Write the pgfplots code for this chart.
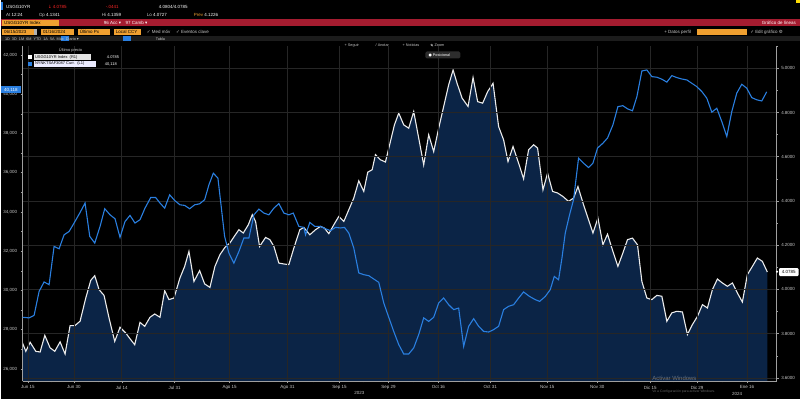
\documentclass[border=0pt]{standalone}
\usepackage{fontspec}
\setmainfont{Liberation Sans}
\newfontfamily\sym{DejaVu Sans}
\usepackage{pgfplots}
\usepackage{pgfplotstable}
\pgfplotsset{compat=1.18}
\definecolor{bbred}{HTML}{A51C30}
\definecolor{bbamber}{HTML}{F0A030}
\definecolor{bbnavy}{HTML}{0B2446}
\definecolor{bbblue}{HTML}{2A7FE0}
\definecolor{bbgrid}{HTML}{262626}
\definecolor{bblabel}{HTML}{C8C8C8}
\definecolor{bbbar}{HTML}{1C1C1C}

\pgfplotstableread{
x y
21.7 3.758
25 3.720
29.3 3.761
35 3.720
39.3 3.717
44 3.792
49.3 3.736
54 3.720
59.3 3.763
64.3 3.708
69.3 3.836
74 3.836
79.3 3.856
85 3.961
90 4.041
94 4.062
98.3 3.999
103.3 3.973
108.3 3.871
114 3.765
119.3 3.829
125 3.803
130 3.773
134 3.750
139.3 3.851
144 3.833
149.3 3.874
154 3.889
159.3 3.874
164 3.994
168.3 3.954
173.3 3.961
179.3 4.052
184 4.104
188.3 4.172
193.3 4.036
199 4.085
204 4.025
209.3 4.009
214.3 4.104
219.3 4.157
224.3 4.190
229.3 4.210
234.3 4.244
238.3 4.270
242.7 4.255
247.7 4.292
251.7 4.338
255 4.307
259 4.194
265 4.235
269.3 4.225
273.3 4.195
278.3 4.119
283.3 4.115
288.3 4.112
293.3 4.187
299.3 4.270
303.3 4.280
309.3 4.247
315 4.270
320 4.285
324 4.277
328.3 4.252
333.3 4.292
338.3 4.330
343.3 4.307
348.3 4.360
353.3 4.413
358.3 4.491
363.3 4.443
367.3 4.530
371.7 4.541
375 4.609
380 4.586
385 4.576
390 4.669
394 4.744
398.3 4.797
403.3 4.744
408.3 4.729
413.3 4.804
418.3 4.684
423.3 4.563
428.3 4.699
433.3 4.623
438.3 4.729
443.3 4.827
448.3 4.925
452.7 4.992
456.7 4.932
461.7 4.865
467.7 4.827
472.7 4.958
477.3 4.849
482.3 4.842
487.3 4.894
492.7 4.932
498.3 4.736
503.3 4.676
507.7 4.578
512.7 4.646
518.3 4.571
523.3 4.500
528.3 4.631
533.3 4.654
537.3 4.639
542.7 4.450
547.3 4.526
552.3 4.443
557.3 4.436
562.7 4.420
568.3 4.398
573.3 4.413
577.7 4.465
583.3 4.383
588.3 4.315
592.7 4.255
597.7 4.323
602.7 4.202
607.3 4.250
612.7 4.172
617.7 4.104
622.7 4.165
627.3 4.225
632.3 4.232
637.3 4.202
641.7 4.036
646.7 3.961
651.7 3.954
656.7 3.973
661.7 3.969
666.7 3.856
671.7 3.894
676.7 3.901
682.3 3.898
687.3 3.796
692.3 3.841
697.3 3.878
702.3 3.931
707.3 3.916
712.3 3.999
717.3 4.047
722.3 4.029
727.3 4.014
732.3 4.029
737.3 3.984
742.3 3.943
747.3 4.067
752.3 4.104
757.3 4.142
762.3 4.127
767.3 4.0785
}\yielddata

\pgfplotstableread{
x y
21.7 28630
28.3 28600
33.3 28730
38.3 29950
43.3 30430
48.3 30290
53.3 32240
58.3 32120
63.3 32830
68.3 33000
73.3 33430
79 33940
84.3 34450
89 32750
94 32410
99.3 33260
104 34160
109.3 33850
114.3 33650
119.3 32700
124.3 33510
129.3 33820
134.3 33430
139.3 33600
144.3 34190
150 34730
155 34730
159.3 34450
164 34190
169 34870
174 34580
179.3 34360
184 34330
189 34160
194 34360
199 34410
204 34620
208.3 35380
212.7 35970
217.3 35720
220 34530
224 32750
228.3 31900
233.3 31390
238.3 31980
243.3 32670
248.3 32670
253.3 33850
258.3 34140
263.3 33940
268.3 33850
273.3 34190
278.3 34420
283.3 33940
288.3 33850
292.7 33940
298.3 33260
303.3 33210
305 32830
309.3 33460
314.3 33260
320 33260
325 33140
330 33040
335 33210
340 33180
344 33210
348.3 32920
353.3 32160
358.3 30890
363.3 30800
368.3 30750
373.3 30580
378.3 30410
383.3 29360
388.3 28630
393.3 27910
398.3 27240
403.3 26760
408.3 26760
413.3 27070
418.3 27750
423.3 28600
428.3 28420
433.3 28630
438.3 29360
443.3 29610
448.3 29270
453.3 29020
458.3 29100
463.3 27150
468.3 28170
473.3 28560
478.3 28170
483.3 27910
488.3 27880
493.3 28000
498.3 28170
503.3 29020
508.3 29190
513.3 29270
518.3 29610
523.3 29920
529.3 29690
535 29530
539.3 29440
545 29690
550 30040
554 30710
558.3 30540
561.7 31650
565 32920
569.3 33850
573.3 34620
578.3 36740
583.3 36480
588.3 36260
592.7 36480
597.3 37250
602.7 37500
607.3 37760
612.7 38430
617.7 39360
622.7 39410
627.3 39250
632.3 39150
636.7 39870
641.7 41180
646.7 41230
651.7 40890
656.7 40860
661.7 40760
666.7 40610
671.7 40940
676.7 40840
681.7 40770
686.7 40720
691.7 40550
696.7 40380
701.7 40130
706.7 39790
711.7 39080
716.7 39280
721.7 38600
726.7 37840
731.7 39110
736.7 40050
741.7 40500
746.7 40300
751.7 39820
756.7 39710
761.7 39650
766.7 40118
}\indexdata

\begin{document}
\begin{tikzpicture}
\fill[black] (0,0) rectangle (800bp,399bp);

% right axis (yield) with filled area
\begin{axis}[
  at={(21.7bp,17.3bp)}, anchor=south west, scale only axis,
  width=755bp, height=335.7bp,
  xmin=21.7, xmax=776.7, ymin=3.5846, ymax=5.1007,
  axis x line*=bottom, axis y line*=right,
  axis line style={draw=gray!75, line width=0.5bp},
  xtick={27,73,121,174,229,287,339,388,438,490,547,597,650,697,747},
  xticklabels={Jun 15,Jun 30,Jul 14,Jul 31,Ago 15,Ago 31,Sep 15,Sep 29,Oct 16,Oct 31,Nov 15,Nov 30,Dic 15,Dic 29,Ene 16},
  minor xtick={50,97,147,201,258,313,363,413,464,518,572,623,673,722},
  ytick={3.6,3.8,4.0,4.2,4.4,4.6,4.8,5.0},
  minor ytick={3.7,3.9,4.1,4.3,4.5,4.7,4.9,5.1},
  yticklabel style={/pgf/number format/fixed, /pgf/number format/fixed zerofill, /pgf/number format/precision=4, xshift=-1bp},
  /pgf/number format/assume math mode=true,
  xmajorgrids, ymajorgrids,
  major grid style={draw=bbgrid, line width=0.5bp},
  tick label style={font=\fontsize{4.5}{5}\selectfont, text=bblabel},
  xticklabel style={yshift=1bp},
  tick style={draw=gray!75, line width=0.4bp},
  major tick length=2bp, minor tick length=1.2bp,
  tick align=outside,
  axis on top,
]
\addplot[draw=none, fill=bbnavy] table {\yielddata} \closedcycle;
\addplot[draw=white!92!black, line width=1.1bp] table {\yielddata};
\end{axis}

% left axis (index) blue line
\begin{axis}[
  at={(21.7bp,17.3bp)}, anchor=south west, scale only axis,
  width=755bp, height=335.7bp,
  xmin=21.7, xmax=776.7, ymin=25369, ymax=42453,
  axis x line=none, axis y line*=left,
  axis line style={draw=gray!75, line width=0.5bp},
  ytick={26000,28000,30000,32000,34000,36000,38000,40000,42000},
  minor ytick={27000,29000,31000,33000,35000,37000,39000,41000},
  yticklabel style={/pgf/number format/fixed, /pgf/number format/precision=0, /pgf/number format/1000 sep={,}},
  /pgf/number format/assume math mode=true,
  tick label style={font=\fontsize{4.5}{5}\selectfont, text=bblabel},
  tick style={draw=gray!75, line width=0.4bp},
  major tick length=2bp, minor tick length=1.2bp,
  tick align=outside,
  scaled y ticks=false,
]
\addplot[draw=bbblue, line width=1.1bp] table {\indexdata};
\end{axis}

% header and annotations (image pixel coordinates)
\begin{scope}[yshift=399bp, x=1bp, y=-1bp, font=\fontsize{4.5}{5}\selectfont, inner sep=0pt]
  % row 1
  \fill[bbblue] (0,2.5) rectangle (2,10.5);
  \node[anchor=west, text=white] at (5,6.5) {USGG10YR};
  \node[anchor=west, text=red!85!white] at (47,6.5) {{\sym ↓} 4.0785};
  \node[anchor=west, text=red!85!white] at (105,6.5) {-.0441};
  \node[anchor=west, text=white] at (158,6.5) {4.0804/4.0785};
  \fill[yellow!80!orange] (796,0) rectangle (800,3);
  % row 2
  \node[anchor=west] at (5,15) {\color{bblabel}At \color{white}12:24};
  \node[anchor=west] at (38,15) {\color{bblabel}Op \color{white}4.1341};
  \node[anchor=west] at (101,15) {\color{bblabel}Hi \color{white}4.1359};
  \node[anchor=west] at (146,15) {\color{bblabel}Lo \color{white}4.0727};
  \node[anchor=west] at (193,15) {\color{bbamber}Prev \color{white}4.1226};
  % red bar
  \fill[bbred] (0,19.5) rectangle (800,26.5);
  \fill[bbamber] (1,20) rectangle (58,26);
  \node[anchor=west, text=black] at (3,23) {USGG10YR Index};
  \node[anchor=west, text=white] at (103,23) {96 Acc {\sym ▾}\quad 97 Camb {\sym ▾}};
  \node[anchor=east, text=white] at (796,23) {Gráfico de líneas};
  % row 4
  \fill[bbamber] (1,29) rectangle (33,35);
  \node[anchor=west, text=black] at (3,32) {06/15/2023};
  \fill[gray!60] (33.5,29) rectangle (36,35);
  \fill[bbamber] (40,29) rectangle (73,35);
  \node[anchor=west, text=black] at (42,32) {01/16/2024};
  \fill[bbamber] (77,29) rectangle (109,35);
  \node[anchor=west, text=black] at (79,32) {Último Px};
  \fill[bbamber] (113,29) rectangle (140,35);
  \node[anchor=west, text=black] at (115,32) {Local CCY};
  \node[anchor=west, text=bblabel] at (146,32) {{\sym ✓} Med móv \quad {\sym ✓} Eventos clave};
  \node[anchor=west, text=bblabel] at (664,32) {+ Datos perfil};
  \fill[bbamber] (697,29) rectangle (747,35);
  \node[anchor=west, text=bblabel] at (750,32) {{\sym ✓} Edit gráfico {\sym ⚙}};
  % row 5
  \fill[bbbar] (0,36) rectangle (800,41.5);
  \fill[bbblue] (60,36.5) rectangle (68,41);
  \node[anchor=west, text=bblabel, font=\fontsize{3.8}{4}\selectfont] at (4,38.8) {1D\ \ 3D\ \ 1M\ \ 6M\ \ YTD\ \ 1A\ \ 5A\ \ Máx\ \ Diario {\sym ▾}};
  \fill[bbblue] (122,36.5) rectangle (130,41);
  \node[anchor=west, text=bblabel, font=\fontsize{3.8}{4}\selectfont] at (155,38.8) {Tabla};
  % row 6 tools
  \node[anchor=west, text=bblabel, font=\fontsize{3.8}{4}\selectfont] at (344,45.5) {+ Seguir};
  \node[anchor=west, text=bblabel, font=\fontsize{3.8}{4}\selectfont] at (375,45.5) {/ Anotar};
  \node[anchor=west, text=bblabel, font=\fontsize{3.8}{4}\selectfont] at (402,45.5) {+ Noticias};
  \draw[bblabel, line width=0.3bp] (431.2,45) circle (0.9) (431.8,45.6) -- (432.6,46.4);
  \node[anchor=west, text=bblabel, font=\fontsize{3.8}{4}\selectfont] at (434,45.5) {Zoom};
  \fill[gray!35!black, rounded corners=1.5bp] (425,51.5) rectangle (460,58.5);
  \node[anchor=west, text=white, font=\fontsize{3.8}{4}\selectfont] at (428,55) {{\sym ●} Posicional};
  % legend
  \node[anchor=west, text=bblabel, font=\fontsize{4}{4.5}\selectfont] at (58,50.5) {Último precio};
  \fill[white] (27,55.3) rectangle (31,59.3);
  \fill[gray!20] (33,54.5) rectangle (90,60);
  \node[anchor=west, text=black, font=\fontsize{4}{4.5}\selectfont] at (34,57.3) {USGG10YR Index \ (R1)};
  \node[anchor=west, text=white, font=\fontsize{4}{4.5}\selectfont] at (106,57.3) {4.0785};
  \fill[bbblue] (27,62) rectangle (31,66);
  \fill[blue!8!white] (33,61.2) rectangle (95,66.7);
  \node[anchor=west, text=black, font=\fontsize{4}{4.5}\selectfont] at (34,64) {NYNKTSAF3087 Curr. \ (L1)};
  \node[anchor=west, text=white, font=\fontsize{4}{4.5}\selectfont] at (104,64) {40,118};
  % axis value flags
  \fill[bbblue] (0,86.5) rectangle (20.5,93.5);
  \node[text=white] at (10,90) {40,118};
  \fill[white] (777,272) circle (1.2);
  \fill[white, rounded corners=1bp] (779,268.3) rectangle (798.5,276.3);
  \node[text=black] at (788.7,272.3) {4.0785};
  % year labels
  \node[text=bblabel] at (359,393.5) {2023};
  \node[text=bblabel] at (737,394.5) {2024};
  % watermark
  \node[anchor=west, text=gray!70, opacity=0.6, font=\fontsize{6}{7}\selectfont] at (652,378.5) {Activar Windows};
  \node[anchor=west, text=gray!70, opacity=0.6, font=\fontsize{3.4}{4}\selectfont] at (652,392.5) {Ve a Configuración para activar Windows.};
\end{scope}
\end{tikzpicture}
\end{document}
